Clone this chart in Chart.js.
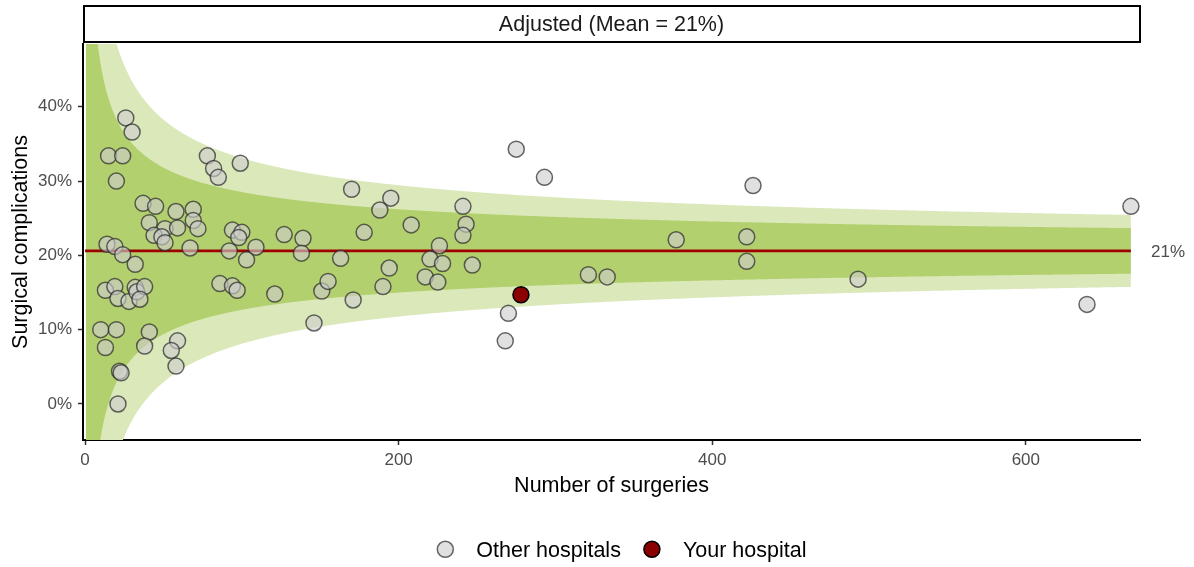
<!DOCTYPE html>
<html>
<head>
<meta charset="utf-8">
<title>Surgical complications funnel plot</title>
<script src="https://cdn.jsdelivr.net/npm/chart.js@4/dist/chart.umd.min.js"></script>
<style>
  html, body { margin: 0; padding: 0; background: #ffffff; }
  #wrap { width: 1194px; height: 567px; position: relative; }
</style>
</head>
<body>
<div id="wrap"><canvas id="funnel" width="1194" height="567"></canvas></div>
<script>
// Number of surgeries per hospital (other hospitals)
const otherSurgeries = [
  26, 30, 15, 24, 20, 37, 45, 58, 69, 69,
  72, 41, 51, 59, 44, 49, 51, 14, 19, 24,
  32, 67, 78, 82, 85, 99, 13, 19, 21, 28,
  32, 33, 38, 35, 10, 20, 13, 41, 38, 59,
  55, 58, 22, 23, 21, 94, 100, 98, 92, 109,
  103, 127, 139, 138, 86, 94, 97, 121, 151, 155,
  146, 170, 195, 188, 178, 208, 226, 163, 220, 228,
  194, 171, 190, 217, 225, 275, 293, 241, 243, 241,
  247, 270, 268, 426, 377, 422, 422, 321, 333, 493,
  667, 639
];
// Adjusted complication rate (%) per hospital, same order
const otherComplications = [
  38.5, 36.6, 33.4, 33.4, 30.0, 27.0, 26.6, 25.9, 26.2, 24.7,
  23.6, 24.4, 23.6, 23.7, 22.7, 22.5, 21.7, 21.5, 21.2, 20.1,
  18.8, 21.0, 33.4, 31.7, 30.5, 32.4, 15.3, 15.8, 14.2, 13.8,
  15.7, 15.1, 15.8, 14.1, 10.0, 10.0, 7.6, 9.7, 7.8, 8.5,
  7.2, 5.1, 4.4, 4.2, 0.0, 23.4, 23.1, 22.4, 20.6, 21.1,
  19.4, 22.8, 22.3, 20.3, 16.2, 15.9, 15.3, 14.8, 15.2, 16.5,
  10.9, 28.9, 27.7, 26.1, 23.1, 24.1, 21.3, 19.6, 19.5, 18.9,
  18.3, 14.0, 15.8, 17.1, 16.4, 34.3, 30.5, 26.6, 24.2, 22.7,
  18.7, 12.2, 8.5, 29.4, 22.1, 22.5, 19.2, 17.4, 17.1, 16.8,
  26.6, 13.4
];
// The highlighted hospital
const yourSurgeries = [278];
const yourComplications = [14.7];

// Overall adjusted mean rate (%)
const meanRate = 20.6;
// z values for the inner (95%) and outer (99.8%) control limits
const innerZ = 1.96;
const outerZ = 3.09;

const xTicks = [0, 200, 400, 600];
const yTicks = [0, 10, 20, 30, 40];

const stripTitle = 'Adjusted (Mean = ' + Math.round(meanRate) + '%)';
const meanLabel = Math.round(meanRate) + '%';
const legendLabels = ['Other hospitals', 'Your hospital'];

const FONT = '"Liberation Sans", Arial, Helvetica, sans-serif';
Chart.defaults.font.family = FONT;

// Binomial control limits around the mean for a given volume n
function limit(n, z, sign) {
  const p = meanRate / 100;
  return 100 * (p + sign * z * Math.sqrt(p * (1 - p) / n));
}
const maxN = Math.max(...otherSurgeries, ...yourSurgeries);
const grid = [];
for (let n = 0.5; n < maxN; n += 0.5) grid.push(n);
grid.push(maxN);
const band = (z, sign) => grid.map(n => ({ x: n, y: limit(n, z, sign) }));

const otherPoints = otherSurgeries.map((n, i) => ({ x: n, y: otherComplications[i] }));
const yourPoints = yourSurgeries.map((n, i) => ({ x: n, y: yourComplications[i] }));

const LIGHT_GREEN = '#dae8ba';
const DARK_GREEN = '#b3d06e';
const MEAN_RED = '#9e0000';
const OTHER_FILL = 'rgba(205,205,205,0.62)';
const OTHER_BORDER = 'rgba(40,40,40,0.7)';
const YOUR_FILL = '#8b0000';

// Strip header, mean label and legend
const decorations = {
  id: 'decorations',
  afterDraw(chart) {
    const { ctx, chartArea: a, scales: { y } } = chart;
    ctx.save();
    ctx.lineWidth = 2;
    ctx.strokeStyle = '#000000';
    ctx.strokeRect(a.left + 1, 6, a.right - a.left - 1, 36);
    ctx.fillStyle = '#1a1a1a';
    ctx.font = '21.5px ' + FONT;
    ctx.textAlign = 'center';
    ctx.textBaseline = 'middle';
    ctx.fillText(stripTitle, (a.left + a.right) / 2, 25);

    ctx.fillStyle = '#4d4d4d';
    ctx.font = '17px ' + FONT;
    ctx.textAlign = 'left';
    ctx.fillText(meanLabel, a.right + 11, y.getPixelForValue(meanRate) + 1);

    // legend
    const fills = [OTHER_FILL, YOUR_FILL];
    const borders = [OTHER_BORDER, '#000000'];
    ctx.font = '21.5px ' + FONT;
    ctx.textBaseline = 'alphabetic';
    let cx = 445.3;
    const cy = 549.3;
    legendLabels.forEach((label, i) => {
      ctx.beginPath();
      ctx.arc(cx, cy, 8, 0, Math.PI * 2);
      ctx.fillStyle = '#ffffff';
      ctx.fill();
      ctx.fillStyle = fills[i];
      ctx.fill();
      ctx.lineWidth = 1.5;
      ctx.strokeStyle = borders[i];
      ctx.stroke();
      ctx.fillStyle = '#000000';
      ctx.fillText(label, cx + 31, 556.7);
      cx += 31 + ctx.measureText(label).width + 31;
    });
    ctx.restore();
  }
};

new Chart(document.getElementById('funnel'), {
  type: 'scatter',
  data: {
    datasets: [
      { type: 'line', label: 'outer upper', data: band(outerZ, 1), order: 10,
        borderWidth: 0, pointRadius: 0, fill: '+1', backgroundColor: LIGHT_GREEN, tension: 0 },
      { type: 'line', label: 'outer lower', data: band(outerZ, -1), order: 9,
        borderWidth: 0, pointRadius: 0, fill: false, tension: 0 },
      { type: 'line', label: 'inner upper', data: band(innerZ, 1), order: 8,
        borderWidth: 0, pointRadius: 0, fill: '+1', backgroundColor: DARK_GREEN, tension: 0 },
      { type: 'line', label: 'inner lower', data: band(innerZ, -1), order: 7,
        borderWidth: 0, pointRadius: 0, fill: false, tension: 0 },
      { type: 'line', label: 'mean', data: [{ x: 0, y: meanRate }, { x: maxN, y: meanRate }], order: 5,
        borderColor: MEAN_RED, borderWidth: 2.6, pointRadius: 0, fill: false },
      { label: legendLabels[0], data: otherPoints, order: 2,
        pointRadius: 8, pointHoverRadius: 8, backgroundColor: OTHER_FILL,
        borderColor: OTHER_BORDER, borderWidth: 1.5 },
      { label: legendLabels[1], data: yourPoints, order: 1,
        pointRadius: 8, pointHoverRadius: 8, backgroundColor: YOUR_FILL,
        borderColor: '#000000', borderWidth: 1.5 }
    ]
  },
  options: {
    responsive: false,
    animation: false,
    events: [],
    layout: { padding: { left: 0, right: 54, top: 44, bottom: 0 } },
    plugins: {
      legend: { display: false },
      tooltip: { enabled: false },
      filler: { propagate: false }
    },
    scales: {
      x: {
        type: 'linear',
        min: -1.3,
        max: 672.8,
        afterFit: s => { s.height = 127; },
        afterBuildTicks: s => { s.ticks = xTicks.map(v => ({ value: v })); },
        ticks: { color: '#4d4d4d', font: { size: 17 }, padding: 5,
                 callback: v => String(v) },
        grid: { drawOnChartArea: false, drawTicks: true, tickLength: 5,
                tickColor: '#333333', tickWidth: 1.5 },
        border: { display: true, color: '#000000', width: 2 },
        title: { display: true, text: 'Number of surgeries', color: '#000000',
                 font: { size: 21.5 }, padding: { top: 0, bottom: 68 } }
      },
      y: {
        type: 'linear',
        min: -4.85,
        max: 48.45,
        afterFit: s => { s.width = 83; },
        afterBuildTicks: s => { s.ticks = yTicks.map(v => ({ value: v })); },
        ticks: { color: '#4d4d4d', font: { size: 17 }, padding: 6,
                 callback: v => v + '%' },
        grid: { drawOnChartArea: false, drawTicks: true, tickLength: 5,
                tickColor: '#333333', tickWidth: 1.5 },
        border: { display: true, color: '#000000', width: 2 },
        title: { display: true, text: 'Surgical complications', color: '#000000',
                 font: { size: 21.5 }, padding: { top: 8, bottom: 0 } }
      }
    }
  },
  plugins: [decorations]
});
</script>
</body>
</html>
